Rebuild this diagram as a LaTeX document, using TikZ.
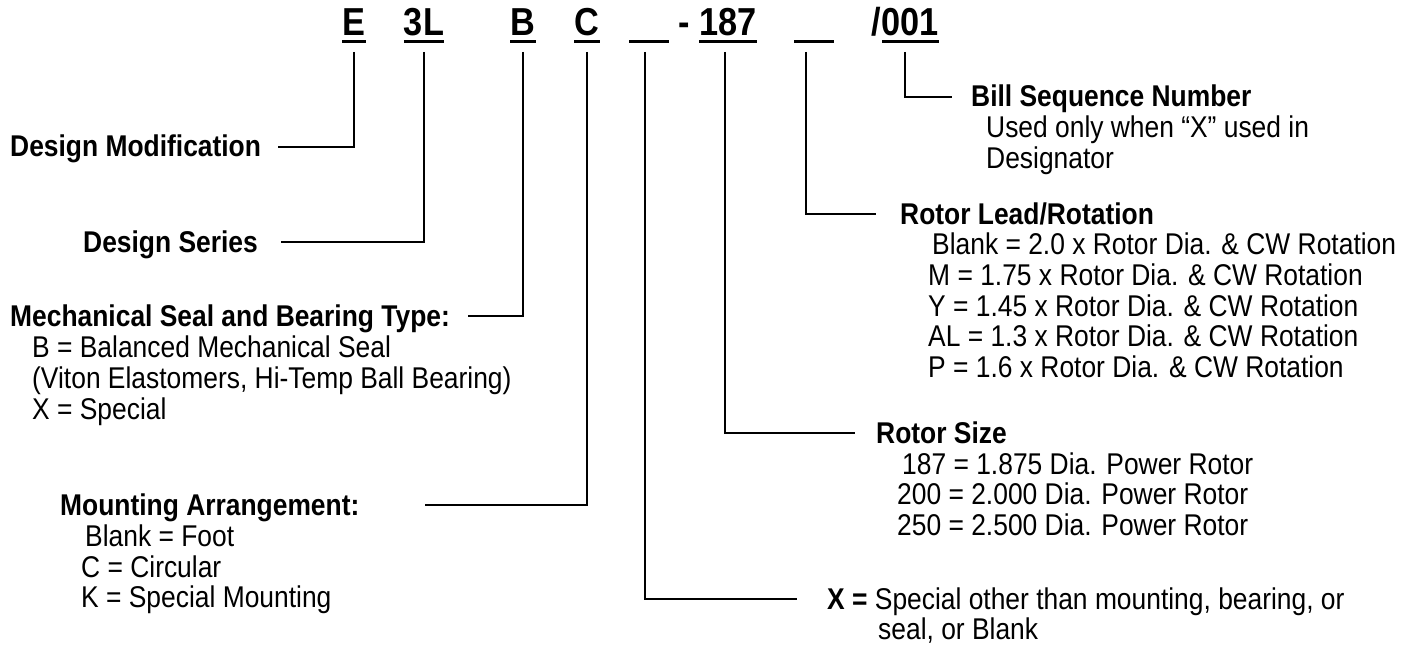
\documentclass[tikz,border=0pt]{standalone}
\usepackage{fontspec}
\setmainfont[FakeStretch=0.88]{Liberation Sans}
\newcommand{\labelsize}{\fontsize{30pt}{34pt}\selectfont}
\newcommand{\codesize}{\fontsize{39pt}{44pt}\selectfont}

\begin{document}
\begin{tikzpicture}[
    x=1pt, y=-1pt,
    code/.style={font=\codesize\bfseries, anchor=base, inner sep=0pt},
    heading/.style={font=\labelsize\bfseries, anchor=base west, inner sep=0pt, text height=20pt, text depth=0pt},
    item/.style={font=\labelsize, anchor=base west, inner sep=0pt},
    leader/.style={line width=1.6pt},
    uline/.style={line width=3pt}
]
\useasboundingbox (0,0) rectangle (1415,647);

% Designator code
\node[code] (codeE) at (354,36) {E};
\node[code] (codeSeries) at (424,36) {3L};
\node[code] (codeSeal) at (523,36) {B};
\node[code] (codeMount) at (587,36) {C};
\node[code, minimum width=39pt] (codeSpecial) at (649,36) {};
\node[code] (codeDash) at (684,36) {-};
\node[code] (codeSize) at (728,36) {187};
\node[code, minimum width=39pt] (codeLead) at (814,36) {};
\node[code] (codeBill) at (905,36) {/001};

% Underlines
\foreach \n in {codeE, codeSeries, codeSeal, codeMount, codeSpecial, codeSize, codeLead}
  \draw[uline] ([yshift=-6pt]\n.base west) -- ([yshift=-6pt]\n.base east);
\draw[uline] ([xshift=11pt, yshift=-6pt]codeBill.base west) -- ([yshift=-6pt]codeBill.base east);

% Left labels
\node[heading] (dmod) at (10,157) {Design Modification};
\node[heading] (dser) at (83,252) {Design Series};
\node[heading] (mech) at (10,326) {Mechanical Seal and Bearing Type:};
\foreach \y/\t in {357/B = Balanced Mechanical Seal, 388/{(Viton Elastomers, Hi-Temp Ball Bearing)}, 419/X = Special}
  \node[item] at (32,\y) {\t};
\node[heading] (mount) at (60,515) {Mounting Arrangement:};
\node[item] (mount1) at (85,546) {Blank = Foot};
\node[item] (mount2) at (81,577) {C = Circular};
\node[item] (mount3) at (81,607) {K = Special Mounting};

% Right labels
\node[heading] (bill) at (971,107) {Bill Sequence Number};
\node[item] (bill1) at (986,138) {Used only when “X” used in};
\node[item] (bill2) at (986,169) {Designator};
\node[heading] (lead) at (900,224) {Rotor Lead/Rotation};
\node[item] (lead1) at (932,254) {Blank = 2.0 x Rotor Dia. \& CW Rotation};
\foreach \y/\t in {285/M = 1.75, 316/Y = 1.45, 346/AL = 1.3, 377/P = 1.6}
  \node[item] at (928,\y) {\t{} x Rotor Dia. \& CW Rotation};
\node[heading] (size) at (876,443) {Rotor Size};
\node[item] (size1) at (902,474) {187 = 1.875 Dia. Power Rotor};
\node[item] (size2) at (897,504) {200 = 2.000 Dia. Power Rotor};
\node[item] (size3) at (897,535) {250 = 2.500 Dia. Power Rotor};
\node[heading, font=\labelsize] (xspec) at (827,609) {\textbf{X =} Special other than mounting, bearing, or};
\node[item] (xspec1) at (878,639) {seal, or Blank};

% Leaders
\draw[leader] ([yshift=-16pt]codeE.base) |- ([xshift=17pt]dmod.east);
\draw[leader] ([yshift=-16pt]codeSeries.base) |- ([xshift=23pt]dser.east);
\draw[leader] ([yshift=-16pt]codeSeal.base) |- ([xshift=18pt]mech.east);
\draw[leader] ([yshift=-16pt]codeMount.base) |- ([xshift=65pt]mount.east);
\draw[leader] ([xshift=-4pt, yshift=-16pt]codeSpecial.base) |- ([xshift=-30pt]xspec.west);
\draw[leader] ([xshift=-3pt, yshift=-16pt]codeSize.base) |- ([xshift=-21pt]size.west);
\draw[leader] ([xshift=-8pt, yshift=-16pt]codeLead.base) |- ([xshift=-24pt]lead.west);
\draw[leader] ([yshift=-16pt]codeBill.base) |- ([xshift=-19pt]bill.west);
\end{tikzpicture}
\end{document}
